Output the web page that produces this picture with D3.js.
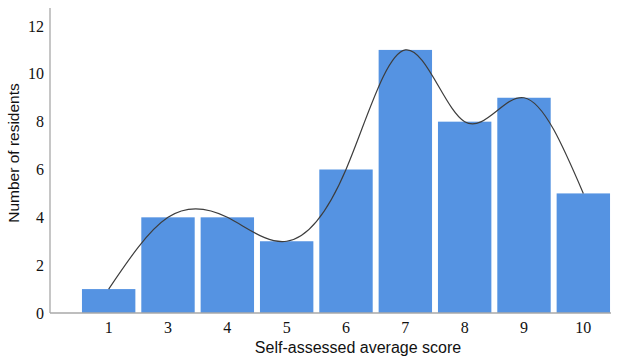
<!DOCTYPE html>
<html><head><meta charset="utf-8">
<script src="https://cdn.jsdelivr.net/npm/d3@7"></script>
<style>body{margin:0;background:#fff}</style>
</head><body>
<svg id="c" width="638" height="358"></svg>
<script>
const categories = ["1","3","4","5","6","7","8","9","10"];
const counts = [1,4,4,3,6,11,8,9,5];
const yTicks = [0,2,4,6,8,10,12];

const svg = d3.select("#c");
const x = d3.scaleBand().domain(categories).range([79,613]).paddingInner(0.1).paddingOuter(0.05);
const y = d3.scaleLinear().domain([0,12]).range([313,26]);

// bars
svg.selectAll("rect.bar").data(counts).enter().append("rect")
  .attr("x",(d,i)=>x(categories[i]))
  .attr("y",d=>y(d))
  .attr("width",x.bandwidth())
  .attr("height",d=>y(0)-y(d))
  .attr("fill","#5593E2");

// axes lines
svg.append("line").attr("x1",50).attr("x2",50).attr("y1",8).attr("y2",y(0)).attr("stroke","#a8a8a8").attr("stroke-width",1.3);
svg.append("line").attr("x1",50).attr("x2",611).attr("y1",y(0)).attr("y2",y(0)).attr("stroke","#a8a8a8").attr("stroke-width",1.3);

// curve
const line = d3.line()
  .x((d,i)=>x(categories[i])+x.bandwidth()/2)
  .y(d=>y(d))
  .curve(d3.curveNatural);
svg.append("path").datum(counts).attr("d",line).attr("fill","none").attr("stroke","#3d3d3d").attr("stroke-width",1.2);

// y tick labels
svg.selectAll("text.yt").data(yTicks).enter().append("text")
  .attr("x",44).attr("y",d=>y(d)).attr("dy","0.35em")
  .attr("text-anchor","end")
  .attr("font-family","Liberation Serif, Times New Roman, serif").attr("font-size",16).attr("fill","#111")
  .text(d=>d);

// x tick labels
svg.selectAll("text.xt").data(categories).enter().append("text")
  .attr("x",d=>x(d)+x.bandwidth()/2).attr("y",333)
  .attr("text-anchor","middle")
  .attr("font-family","Liberation Serif, Times New Roman, serif").attr("font-size",16).attr("fill","#111")
  .text(d=>d);

// axis titles
svg.append("text").attr("x",358).attr("y",353).attr("text-anchor","middle")
  .attr("font-family","Liberation Sans, Arial, sans-serif").attr("font-size",16).attr("fill","#111")
  .text("Self-assessed average score");
svg.append("text").attr("transform","translate(19,153) rotate(-90)").attr("text-anchor","middle")
  .attr("font-family","Liberation Sans, Arial, sans-serif").attr("font-size",15.5).attr("fill","#111")
  .text("Number of residents");
</script>
</body></html>
